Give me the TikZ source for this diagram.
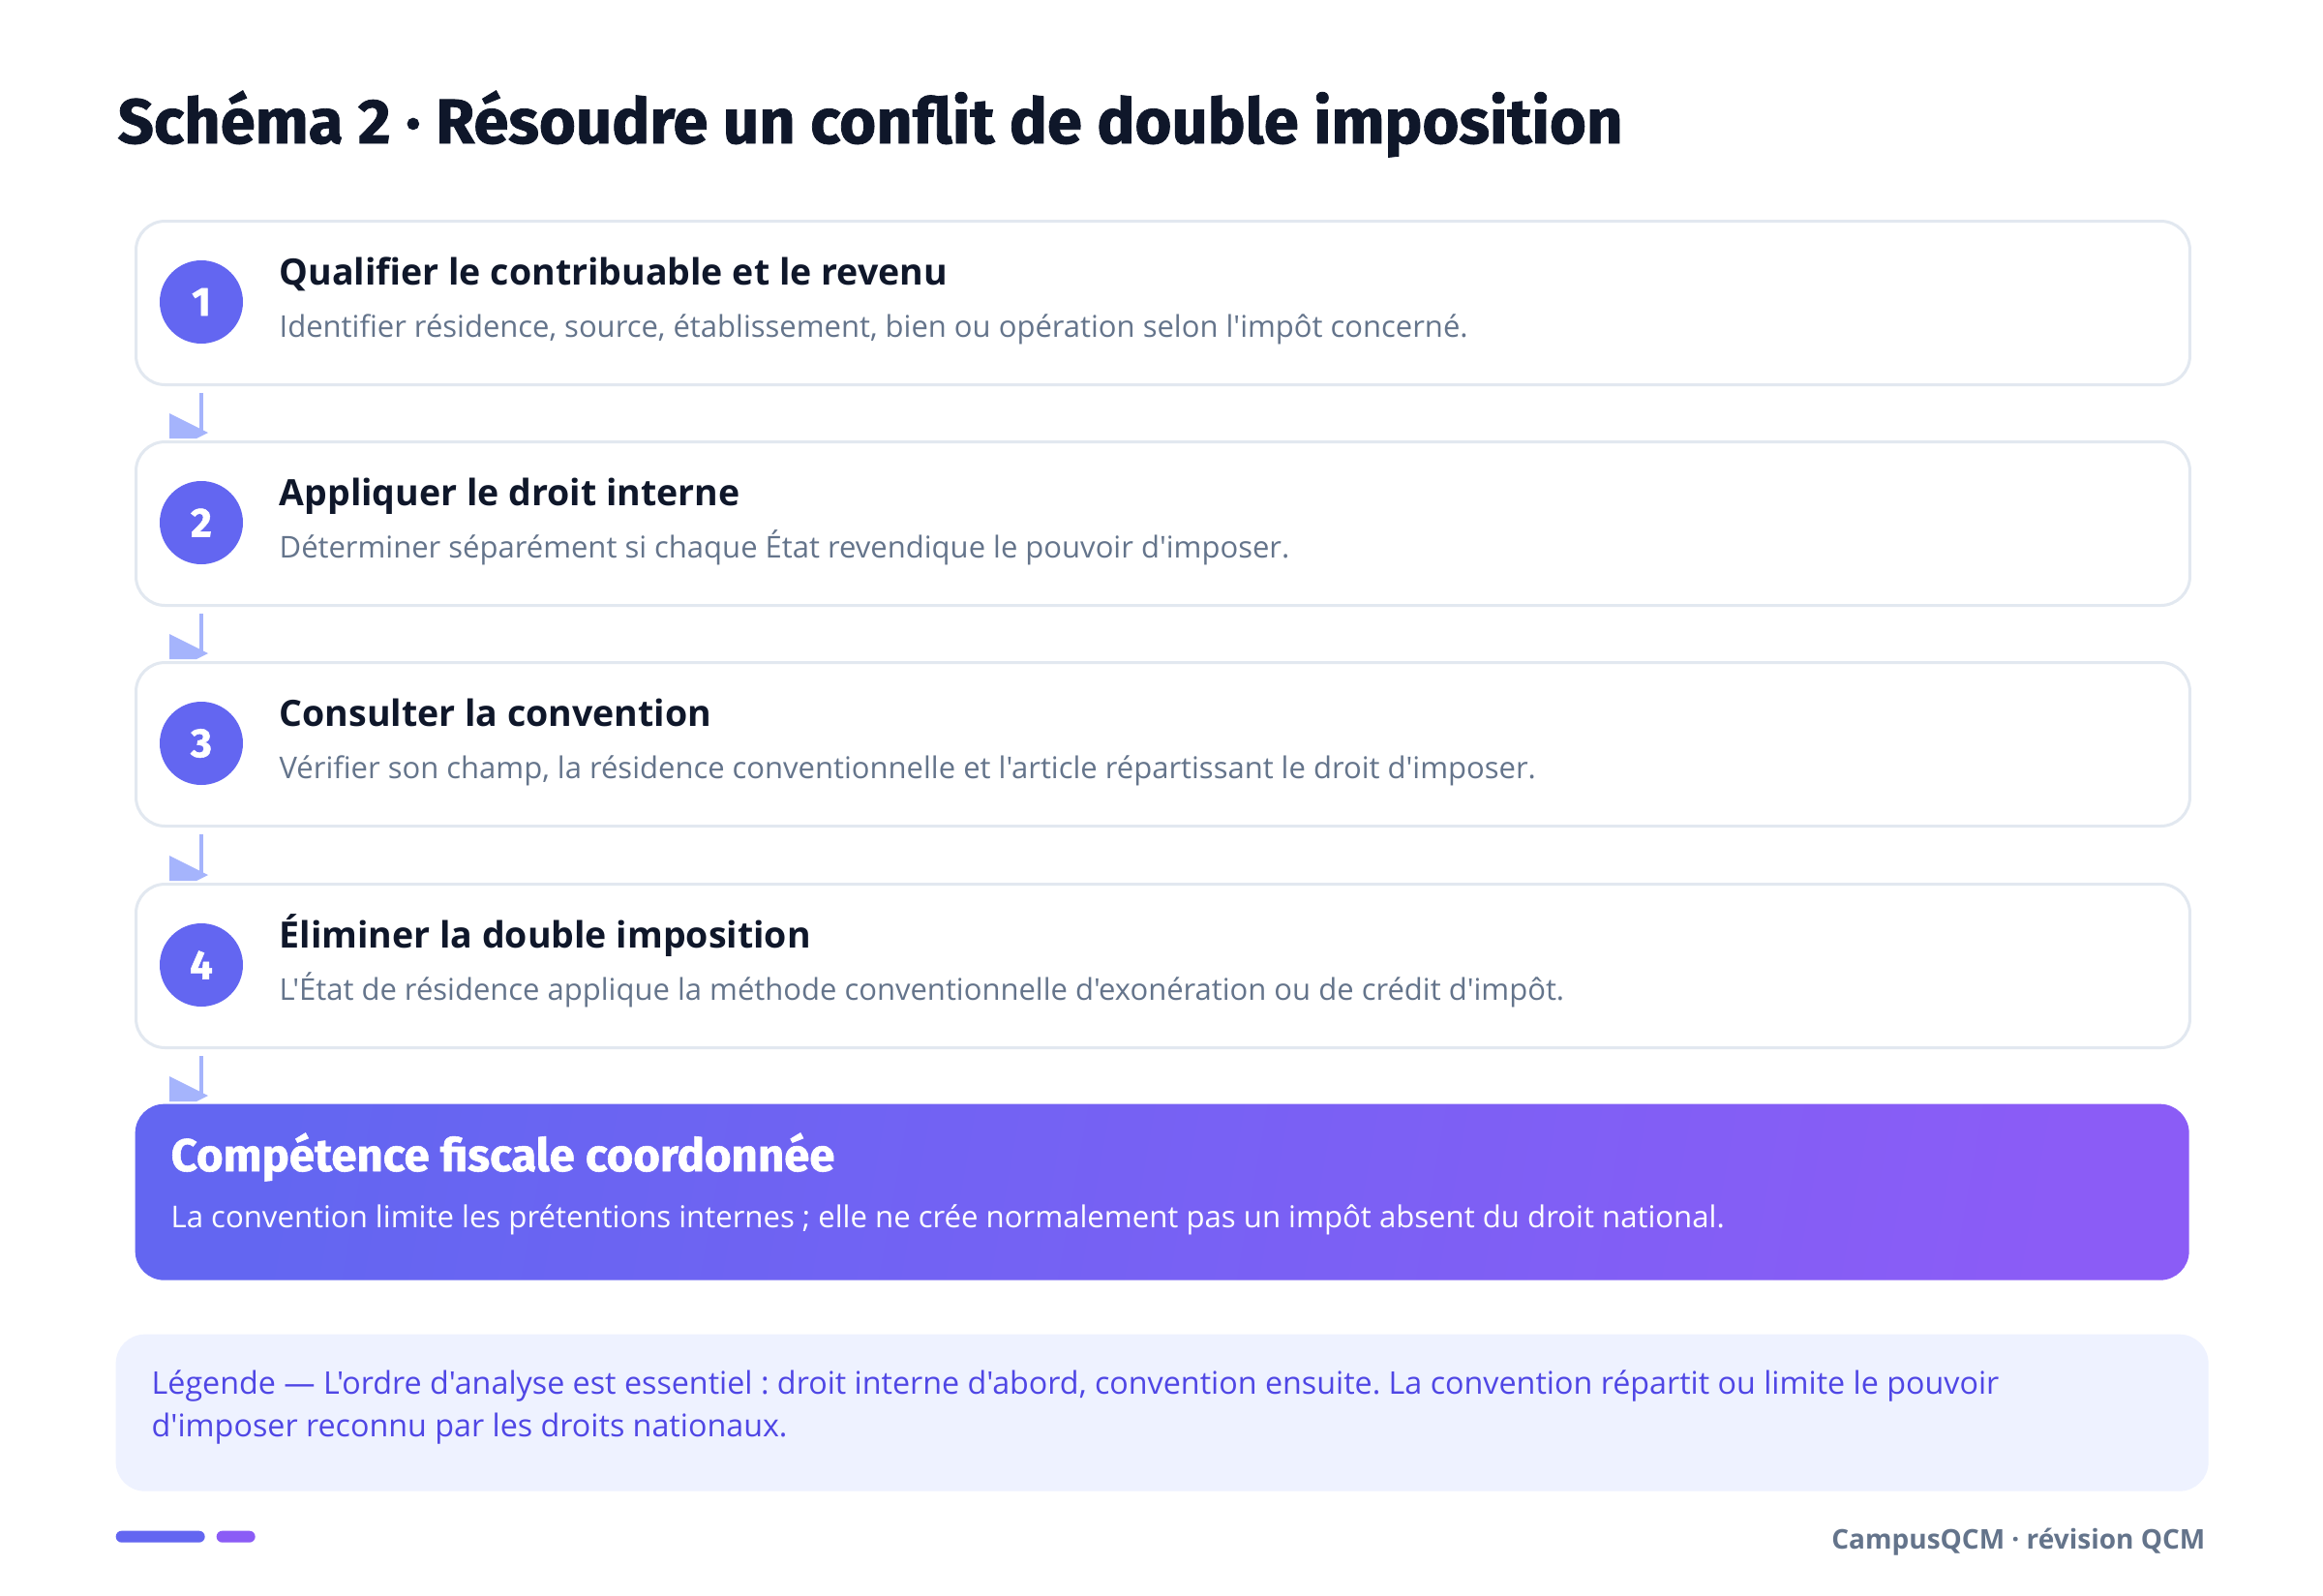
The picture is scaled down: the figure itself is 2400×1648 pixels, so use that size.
\documentclass[tikz,border=0pt]{standalone}
\usepackage{fontspec}
\setmainfont{Open Sans}[Ligatures=TeXOff]
\newfontfamily\heavyfont{Fira Sans}[Ligatures=TeXOff, BoldFeatures={FakeBold=1.2}]
\frenchspacing
\definecolor{ink}{HTML}{0F172A}
\definecolor{cardline}{HTML}{E2E8F0}
\definecolor{indigo}{HTML}{6366F1}
\definecolor{violet}{HTML}{8B5CF6}
\definecolor{arrowc}{HTML}{A5B4FC}
\definecolor{slate}{HTML}{64748B}
\definecolor{legfill}{HTML}{EEF2FF}
\definecolor{legtext}{HTML}{4F46E5}
\tikzset{
  x=0.3pt, y=-0.3pt,
  card/.style={draw=cardline, line width=0.9pt, rounded corners=9pt, fill=white,
    minimum width=636.6pt, minimum height=50.7pt, inner sep=0pt, anchor=north west},
  num/.style={circle, fill=indigo, minimum size=25.8pt, inner sep=0pt, text=white,
    font=\heavyfont\bfseries\fontsize{12.6}{14}\selectfont},
  ttl/.style={anchor=base west, inner sep=0pt, text=ink, font=\bfseries\fontsize{11.25}{13}\selectfont},
  sub/.style={anchor=base west, inner sep=0pt, text=slate, font=\fontsize{9.3}{11}\selectfont},
  link/.style={draw=arrowc, line width=1.3pt},
  tipfill/.style={fill=arrowc},
  final/.style={rounded corners=9pt, left color=indigo, right color=violet, shading angle=80,
    minimum width=636.6pt, minimum height=54.6pt, inner sep=0pt, anchor=north west},
}
\begin{document}
\begin{tikzpicture}
\useasboundingbox[fill=white] (0,0) rectangle (2400,1648);
% title
\node[anchor=base west, inner sep=0pt, text=ink, font=\heavyfont\bfseries\fontsize{19.55}{23}\selectfont]
  (title) at (121,148) {Schéma 2 · Résoudre un conflit de double imposition};
% cards
\foreach \i/\top/\t/\s in {
 1/227/{Qualifier le contribuable et le revenu}/{Identifier résidence, source, établissement, bien ou opération selon l'impôt concerné.},
 2/455/{Appliquer le droit interne}/{Déterminer séparément si chaque État revendique le pouvoir d'imposer.},
 3/683/{Consulter la convention}/{Vérifier son champ, la résidence conventionnelle et l'article répartissant le droit d'imposer.},
 4/912/{Éliminer la double imposition}/{L'État de résidence applique la méthode conventionnelle d'exonération ou de crédit d'impôt.}}{
  \node[card] (b\i) at (139,\top) {};
  \node[num] (n\i) at (208,\top+85) {\i};
  \node[ttl] (t\i) at (288,\top+67) {\t};
  \node[sub] (s\i) at (288,\top+121) {\s};
}
% final box
\node[final] (b5) at (139,1140) {};
\node[anchor=base west, inner sep=0pt, text=white, font=\heavyfont\bfseries\fontsize{14.2}{16}\selectfont]
  (t5) at (176,1210) {Compétence fiscale coordonnée};
\node[anchor=base west, inner sep=0pt, text=white, font=\fontsize{9.34}{11}\selectfont]
  (s5) at (176,1268) {La convention limite les prétentions internes ; elle ne crée normalement pas un impôt absent du droit national.};
% connectors
\foreach \a/\b in {1/2,2/3,3/4,4/5}{
  \draw[link] ([yshift=-2.1pt]b\a.south -| n1.center) -- ([yshift=2.4pt]b\b.north -| n1.center);
  \fill[tipfill] ([xshift=-9.9pt,yshift=8.4pt]b\b.north -| n1.center)
    -- ([xshift=2.1pt,yshift=2.4pt]b\b.north -| n1.center)
    -- ([xshift=-1.5pt,yshift=0.6pt]b\b.north -| n1.center)
    -- ([xshift=-9.9pt,yshift=0.6pt]b\b.north -| n1.center) -- cycle;
}
% legend
\node[fill=legfill, rounded corners=9pt, minimum width=648.6pt, minimum height=48.6pt,
  inner sep=0pt, anchor=north west] (leg) at (119,1378) {};
\node[anchor=base west, inner sep=0pt, text=legtext, font=\fontsize{9.68}{11}\selectfont]
  (l1) at (156,1440) {Légende — L'ordre d'analyse est essentiel : droit interne d'abord, convention ensuite. La convention répartit ou limite le pouvoir};
\node[anchor=base west, inner sep=0pt, text=legtext, font=\fontsize{9.68}{11}\selectfont]
  (l2) at (156,1484) {d'imposer reconnu par les droits nationaux.};
% footer
\node[fill=indigo, rounded corners=1.8pt, minimum width=27.6pt, minimum height=3.6pt, inner sep=0pt, anchor=north west] (bar1) at (119,1581) {};
\node[fill=violet, rounded corners=1.8pt, minimum width=12pt, minimum height=3.6pt, inner sep=0pt, anchor=north west] (bar2) at (223,1581) {};
\node[anchor=base east, inner sep=0pt, text=slate, font=\bfseries\fontsize{8.4}{10}\selectfont]
  (foot) at (2279,1600) {CampusQCM · révision QCM};
\end{tikzpicture}
\end{document}
